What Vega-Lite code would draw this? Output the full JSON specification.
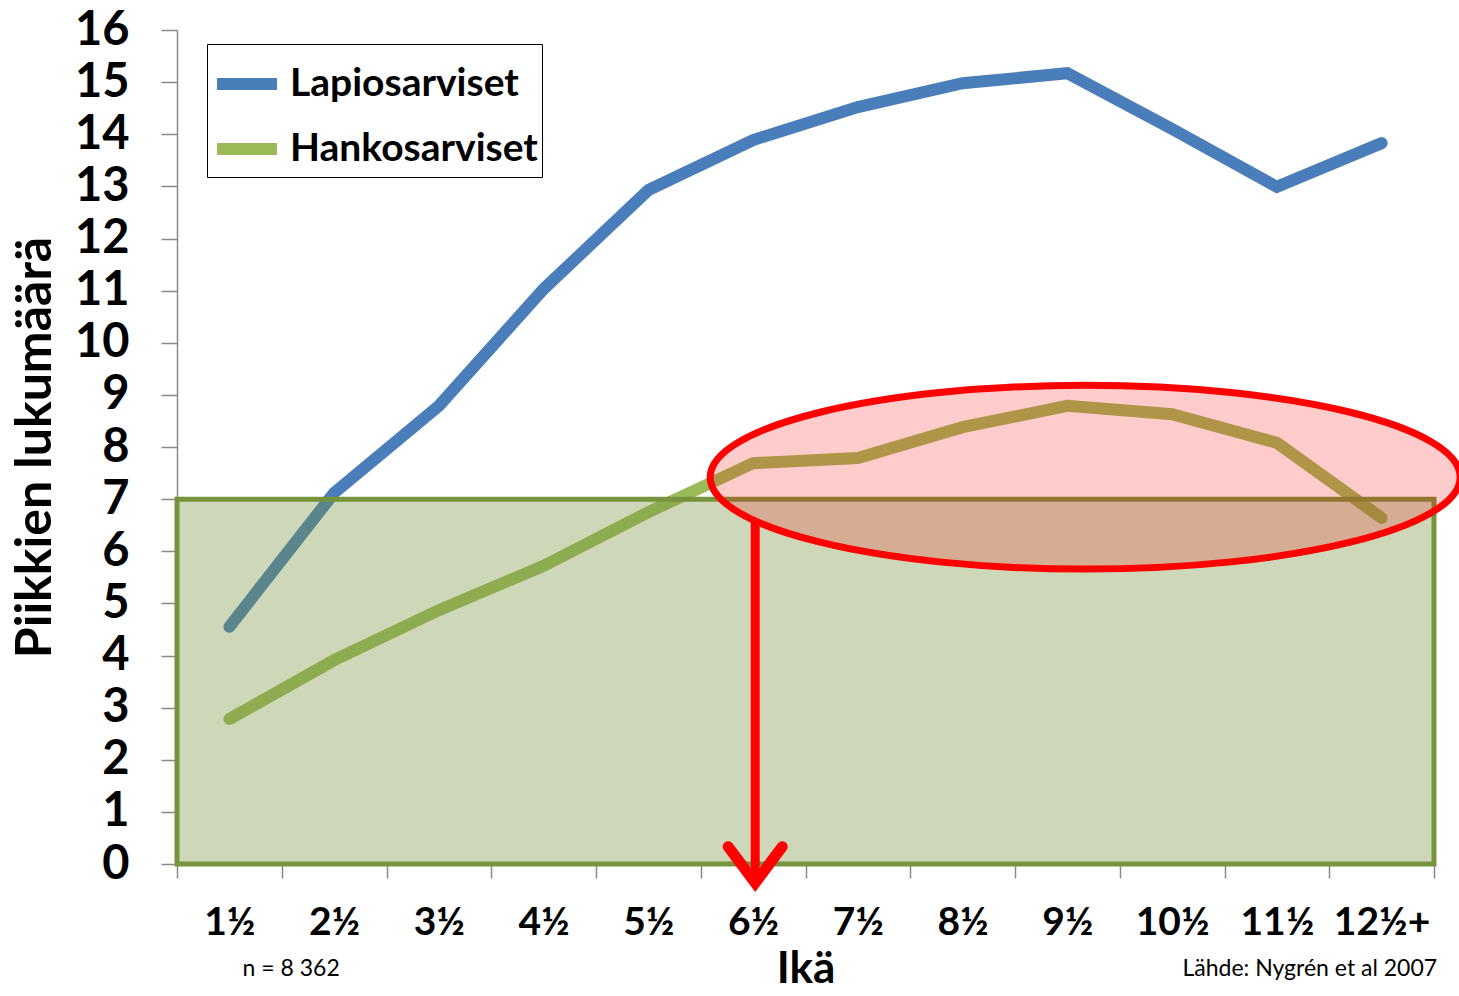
{
  "$schema": "https://vega.github.io/schema/vega-lite/v6.json",
  "autosize": "none",
  "width": 1257,
  "height": 834,
  "padding": {"left": 177, "top": 30, "right": 25, "bottom": 132},
  "background": "white",
  "config": {
    "font": "Lato",
    "view": {"stroke": null},
    "axisY": {
      "title": "Piikkien lukumäärä", "titleFontSize": 50, "titleFontWeight": "bold", "titleColor": "black", "titlePadding": 14,
      "values": [0, 1, 2, 3, 4, 5, 6, 7, 8, 9, 10, 11, 12, 13, 14, 15, 16],
      "labelFontSize": 47, "labelFontWeight": "bold", "labelColor": "black", "labelPadding": 32,
      "tickSize": 16, "tickColor": "#8a8a8a", "tickWidth": 1.5,
      "domainColor": "#8a8a8a", "domainWidth": 1.5, "grid": false
    }
  },
  "datasets": {
    "series": [
      {"age": "1½", "typ": "Lapiosarviset", "value": 4.55},
      {"age": "2½", "typ": "Lapiosarviset", "value": 7.12},
      {"age": "3½", "typ": "Lapiosarviset", "value": 8.79},
      {"age": "4½", "typ": "Lapiosarviset", "value": 11.03},
      {"age": "5½", "typ": "Lapiosarviset", "value": 12.93},
      {"age": "6½", "typ": "Lapiosarviset", "value": 13.89},
      {"age": "7½", "typ": "Lapiosarviset", "value": 14.52},
      {"age": "8½", "typ": "Lapiosarviset", "value": 14.98},
      {"age": "9½", "typ": "Lapiosarviset", "value": 15.17},
      {"age": "10½", "typ": "Lapiosarviset", "value": 14.1},
      {"age": "11½", "typ": "Lapiosarviset", "value": 12.99},
      {"age": "12½+", "typ": "Lapiosarviset", "value": 13.83},
      {"age": "1½", "typ": "Hankosarviset", "value": 2.78},
      {"age": "2½", "typ": "Hankosarviset", "value": 3.91},
      {"age": "3½", "typ": "Hankosarviset", "value": 4.87},
      {"age": "4½", "typ": "Hankosarviset", "value": 5.72},
      {"age": "5½", "typ": "Hankosarviset", "value": 6.75},
      {"age": "6½", "typ": "Hankosarviset", "value": 7.69},
      {"age": "7½", "typ": "Hankosarviset", "value": 7.79},
      {"age": "8½", "typ": "Hankosarviset", "value": 8.38},
      {"age": "9½", "typ": "Hankosarviset", "value": 8.79},
      {"age": "10½", "typ": "Hankosarviset", "value": 8.63},
      {"age": "11½", "typ": "Hankosarviset", "value": 8.08},
      {"age": "12½+", "typ": "Hankosarviset", "value": 6.64}
    ],
    "box": [{"x0": 0, "x1": 12, "y0": 0, "y1": 7}],
    "oval": [{"pos": 8.67, "y": 7.42}],
    "arrow": [{"pos": 5.52, "y0": 6.6, "y1": -0.36}],
    "noteLeft": [{"pos": 1.09, "y": -2.14, "label": "n = 8 362"}],
    "noteRight": [{"pos": 12.03, "y": -2.14, "label": "Lähde: Nygrén et al 2007"}]
  },
  "layer": [
    {
      "data": {"name": "series"},
      "mark": {"type": "line", "strokeWidth": 12, "strokeCap": "round", "strokeJoin": "miter"},
      "encoding": {
        "x": {
          "field": "age", "type": "ordinal",
          "sort": ["1½", "2½", "3½", "4½", "5½", "6½", "7½", "8½", "9½", "10½", "11½", "12½+"],
          "bandPosition": 0.5,
          "scale": {"type": "band", "paddingInner": 0, "paddingOuter": 0},
          "axis": {
            "title": "Ikä", "titleFontSize": 44, "titleFontWeight": "bold", "titleColor": "black", "titlePadding": 5,
            "labelAngle": 0, "labelFontSize": 39, "labelFontWeight": "bold", "labelColor": "black", "labelPadding": 25,
            "tickBand": "extent", "tickSize": 14, "tickColor": "#8a8a8a", "tickWidth": 1.5,
            "domainColor": "#8a8a8a", "domainWidth": 1.5, "grid": false
          }
        },
        "y": {
          "field": "value", "type": "quantitative",
          "title": "Piikkien lukumäärä",
          "scale": {"domain": [0, 16], "nice": false, "zero": true}
        },
        "color": {
          "field": "typ", "type": "nominal",
          "scale": {"domain": ["Lapiosarviset", "Hankosarviset"], "range": ["#4a7ebb", "#9bbb59"]},
          "legend": {
            "title": null, "orient": "none", "legendX": 30, "legendY": 14,
            "symbolType": "stroke", "symbolSize": 3600, "symbolStrokeWidth": 12,
            "labelFontSize": 39, "labelFontWeight": "bold", "labelColor": "black", "labelOffset": 7, "labelLimit": 0,
            "rowPadding": 5, "padding": 4,
            "strokeColor": "black", "fillColor": "white"
          }
        }
      }
    },
    {
      "data": {"name": "box"},
      "mark": {"type": "rect", "fill": "#76923c", "fillOpacity": 0.36, "stroke": "#77933c", "strokeWidth": 5},
      "encoding": {
        "x": {"field": "x0", "type": "quantitative", "scale": {"domain": [0, 12], "nice": false, "zero": false}, "axis": null},
        "x2": {"field": "x1"},
        "y": {"field": "y0", "type": "quantitative", "title": "Piikkien lukumäärä"},
        "y2": {"field": "y1"}
      }
    },
    {
      "data": {"name": "oval"},
      "mark": {
        "type": "point", "filled": true, "opacity": 1,
        "shape": "M-1,0 C-1,-0.1353 -0.5523,-0.245 0,-0.245 C0.5523,-0.245 1,-0.1353 1,0 C1,0.1353 0.5523,0.245 0,0.245 C-0.5523,0.245 -1,0.1353 -1,0 Z",
        "size": 562500, "fill": "#ff0000", "fillOpacity": 0.2, "stroke": "#ff0000", "strokeWidth": 7
      },
      "encoding": {
        "x": {"field": "pos", "type": "quantitative", "scale": {"domain": [0, 12], "nice": false, "zero": false}, "axis": null},
        "y": {"field": "y", "type": "quantitative", "title": "Piikkien lukumäärä"}
      }
    },
    {
      "data": {"name": "arrow"},
      "mark": {"type": "rule", "stroke": "#ff0000", "strokeWidth": 9},
      "encoding": {
        "x": {"field": "pos", "type": "quantitative", "scale": {"domain": [0, 12], "nice": false, "zero": false}, "axis": null},
        "y": {"field": "y0", "type": "quantitative", "title": "Piikkien lukumäärä"},
        "y2": {"field": "y1"}
      }
    },
    {
      "data": {"name": "arrow"},
      "mark": {
        "type": "point", "filled": false, "opacity": 1,
        "shape": "M-0.75,-1 L0,0 L0.75,-1",
        "size": 5184, "stroke": "#ff0000", "strokeWidth": 11, "strokeCap": "round", "strokeJoin": "miter"
      },
      "encoding": {
        "x": {"field": "pos", "type": "quantitative", "scale": {"domain": [0, 12], "nice": false, "zero": false}, "axis": null},
        "y": {"field": "y1", "type": "quantitative", "title": "Piikkien lukumäärä"}
      }
    },
    {
      "data": {"name": "noteLeft"},
      "mark": {"type": "text", "fontSize": 23, "color": "black", "baseline": "alphabetic", "align": "center"},
      "encoding": {
        "x": {"field": "pos", "type": "quantitative", "scale": {"domain": [0, 12], "nice": false, "zero": false}, "axis": null},
        "y": {"field": "y", "type": "quantitative", "title": "Piikkien lukumäärä"},
        "text": {"field": "label"}
      }
    },
    {
      "data": {"name": "noteRight"},
      "mark": {"type": "text", "fontSize": 23, "color": "black", "baseline": "alphabetic", "align": "right"},
      "encoding": {
        "x": {"field": "pos", "type": "quantitative", "scale": {"domain": [0, 12], "nice": false, "zero": false}, "axis": null},
        "y": {"field": "y", "type": "quantitative", "title": "Piikkien lukumäärä"},
        "text": {"field": "label"}
      }
    }
  ],
  "resolve": {"scale": {"x": "independent"}}
}
